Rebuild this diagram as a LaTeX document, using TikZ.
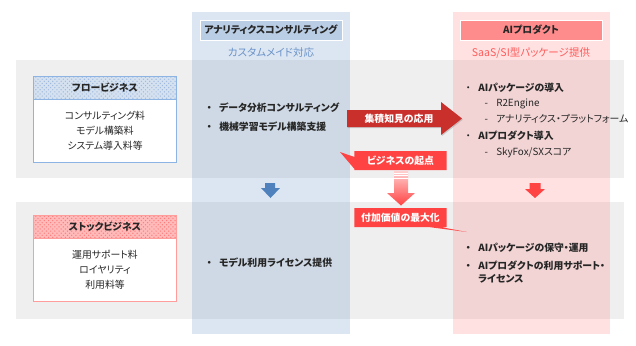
\documentclass[tikz,border=0pt]{standalone}
\usepackage{fontspec}
\setmainfont{Noto Sans CJK JP}[RawFeature=+palt]
\usetikzlibrary{positioning,patterns,shapes.callouts,shadows}
\definecolor{bandgray}{HTML}{EFEFEF}
\definecolor{colblue}{HTML}{4F81BD}
\definecolor{colred}{HTML}{FF6B6B}
\definecolor{headblue}{HTML}{B9CDE5}
\definecolor{headred}{HTML}{FF8C8C}
\definecolor{textblue}{HTML}{6A92C8}
\definecolor{textred}{HTML}{FF5A5A}
\definecolor{frameblue}{HTML}{8EB4E3}
\definecolor{framered}{HTML}{FF9C9C}
\definecolor{dotblue}{HTML}{9DB9E0}
\definecolor{dotred}{HTML}{FF7A7A}
\definecolor{calloutred}{HTML}{FF4242}
\definecolor{arrowred}{HTML}{C9302C}
\definecolor{inkgray}{HTML}{262626}
\newcommand{\itembul}{\makebox[14.2pt]{・}}
\newcommand{\itemdash}{\hspace*{12.8pt}\makebox[14.2pt]{-}}
\newcommand{\itemhang}{\hspace*{14.2pt}}
\tikzset{
  band/.style={fill=bandgray},
  column/.style={fill=#1,fill opacity=.2},
  colhead/.style={
    draw=white,
    line width=.6pt,
    minimum width=3.55cm,
    minimum height=.5cm,
    inner sep=0pt,
    text=inkgray,
    font=\bfseries\fontsize{7}{8}\selectfont
  },
  subtitle/.style={
    inner sep=0pt,
    font=\fontsize{7.5}{8}\selectfont
  },
  kindhead/.style={
    minimum width=3.55cm,
    minimum height=.55cm,
    inner sep=0pt,
    text=inkgray,
    font=\bfseries\fontsize{7}{8}\selectfont
  },
  kindbody/.style={
    fill=white,
    minimum width=3.55cm,
    minimum height=1.575cm,
    inner sep=0pt,
    align=center,
    text=inkgray,
    font=\fontsize{7}{10.6}\selectfont
  },
  itemlist/.style={
    anchor=west,
    inner sep=0pt,
    align=left,
    text=inkgray,
    font=\fontsize{7}{11}\selectfont
  },
  pointbox/.style={
    rectangle callout,
    fill=calloutred,
    text=white,
    minimum width=2.3cm,
    minimum height=.475cm,
    inner sep=0pt,
    callout pointer width=.3cm,
    font=\bfseries\fontsize{7}{8}\selectfont
  },
  blockarrow/.style={fill=#1}
}

\begin{document}
\begin{tikzpicture}[x=.025cm,y=-.025cm]
\useasboundingbox (0,0) rectangle (636,345);
% bands and columns
\fill[band] (16,60) rectangle (624,178);
\fill[band] (16,202) rectangle (624,319);
\fill[column=colblue] (192,12) rectangle (350,334);
\fill[column=colred] (453,12) rectangle (610,334);

% column heads
\node[colhead,fill=headblue] (anahead) at (271,30) {アナリティクスコンサルティング};
\node[subtitle,text=textblue,below=5pt of anahead] (anasub) {カスタムメイド対応};
\node[colhead,fill=headred] (aihead) at (531,30) {AIプロダクト};
\node[subtitle,text=textred,below=5pt of aihead] (aisub) {SaaS/SI型パッケージ提供};

% flow business
\node[kindhead,preaction={fill=headblue!60},pattern=crosshatch dots,pattern color=dotblue] (flowhead) at (105,88) {フロービジネス};
\node[kindbody,below=0pt of flowhead] (flowbody) {コンサルティング料\\モデル構築料\\システム導入料等};
\draw[frameblue,line width=.7pt] (flowhead.north west) rectangle (flowbody.south east);
\draw[frameblue,line width=.7pt] (flowhead.south west) -- (flowhead.south east);

% stock business
\node[kindhead,preaction={fill=headred!60},pattern=crosshatch dots,pattern color=dotred] (stockhead) at (105,227) {ストックビジネス};
\node[kindbody,below=0pt of stockhead] (stockbody) {運用サポート料\\ロイヤリティ\\利用料等};
\draw[framered,line width=.7pt] (stockhead.north west) rectangle (stockbody.south east);
\draw[framered,line width=.7pt] (stockhead.south west) -- (stockhead.south east);

% lists
\node[itemlist,font=\bfseries\fontsize{7}{13.5}\selectfont] (anaflow) at (199,117.5) {\itembul データ分析コンサルティング\\\itembul 機械学習モデル構築支援};
\node[itemlist,font=\bfseries\fontsize{7}{11}\selectfont] (anastock) at (199,263) {\itembul モデル利用ライセンス提供};
\node[itemlist] (aiflow) at (458,120) {\itembul\textbf{AIパッケージの導入}\\\itemdash R2Engine\\\itemdash アナリティクス・プラットフォーム\\[1.5pt]\itembul\textbf{AIプロダクト導入}\\\itemdash SkyFox/SXスコア};
\node[itemlist,font=\bfseries\fontsize{7}{9}\selectfont] (aistock) at (458,263) {\itembul AIパッケージの保守・運用\\[4pt]\itembul AIプロダクトの利用サポート・\\\itemhang ライセンス};

% down arrows
\fill[blockarrow=colblue] (265,183) -- (275,183) -- (275,188) -- (280,188) -- (270.5,198) -- (261,188) -- (265,188) -- cycle;
\fill[blockarrow=calloutred] (529.5,183) -- (540.5,183) -- (540.5,189) -- (545,189) -- (535,198) -- (525,189) -- (529.5,189) -- cycle;
\shade[top color=calloutred!25,bottom color=calloutred] (394,171) -- (408,171) -- (408,193) -- (415,193) -- (401,205.5) -- (387,193) -- (394,193) -- cycle;
\foreach \y in {173,175.5,178}
  \draw[white,line width=.5pt] (394,\y) -- (408,\y);

% knowledge arrow
\fill[blockarrow=arrowred,drop shadow={opacity=.35,shadow xshift=.6pt,shadow yshift=-.8pt}] (347,110) -- (441,110) -- (441,102) -- (462,118.5) -- (441,135) -- (441,127) -- (347,127) -- cycle;
\node[text=white,font=\bfseries\fontsize{7}{8}\selectfont] (knowhow) at (399,118.5) {集積知見の応用};

% callouts
\node[pointbox,callout absolute pointer={(340,152)}] (origin) at (400.5,160.5) {ビジネスの起点};
\node[pointbox,callout absolute pointer={(467,232)}] (valueup) at (400.5,217.5) {付加価値の最大化};
\end{tikzpicture}
\end{document}
